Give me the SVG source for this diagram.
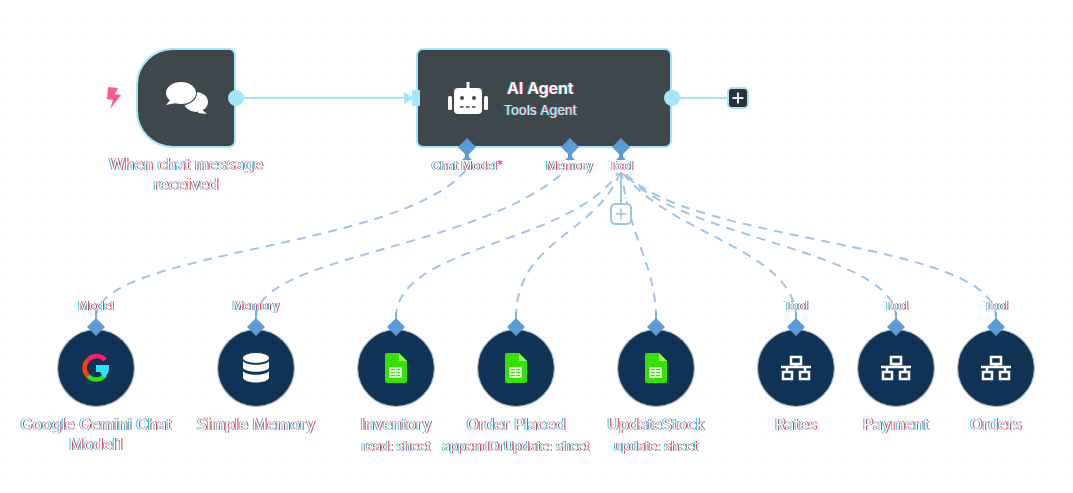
<svg xmlns="http://www.w3.org/2000/svg" width="1073" height="493" viewBox="0 0 1073 493">
<style>
.main{fill:#3d474c;stroke:#a8e5f6;stroke-width:2}
.port{fill:#a5e5f8}
.flow{fill:none;stroke:#a8e5f6;stroke-width:2}
.dash{fill:none;stroke:#a3c4e6;stroke-width:2;stroke-dasharray:9 7}
.dia{fill:#5a9bd8}
.sub{fill:#113355;stroke:#b4c2cc;stroke-width:1.2}
.stem{fill:none;stroke:#7fb0e0;stroke-width:2}
.t{font-family:"Inter","Liberation Sans",sans-serif;fill:#fff;text-anchor:middle;filter:url(#fringe)}
.name{font-size:16px}
.sm{font-size:13px}
.port-l{font-size:12px}
.ic{fill:#fff}
.net{fill:none;stroke:#fff;stroke-width:2.5}
</style>
<defs>
<pattern id="grid" width="20" height="20" patternUnits="userSpaceOnUse" patternTransform="translate(5 17)">
<circle cx="0.5" cy="0.5" r="0.6" fill="#d6d8da"/>
</pattern>
<filter id="fringe" x="-10%" y="-30%" width="120%" height="160%" color-interpolation-filters="sRGB">
<feOffset in="SourceAlpha" dx="-0.6" result="a"/>
<feFlood flood-color="#16cfe6"/>
<feComposite in2="a" operator="in" result="c"/>
<feOffset in="SourceAlpha" dx="0.6" result="b"/>
<feFlood flood-color="#e8324e"/>
<feComposite in2="b" operator="in" result="r"/>
<feMerge><feMergeNode in="c"/><feMergeNode in="r"/><feMergeNode in="SourceGraphic"/></feMerge>
</filter>
<g id="sheet">
<path d="M-9-15H3l8 8V13a2 2 0 0 1-2 2H-9a2 2 0 0 1-2-2V-13a2 2 0 0 1 2-2z" fill="#36e000"/>
<path d="M3-15l8 8H3z" fill="#9af060"/>
<path d="M-6 0H5V9H-6zM-0.5 0V9M-6 3H5M-6 6H5" fill="none" stroke="#fff" stroke-width="1.4"/>
</g>
<g id="network">
<path class="net" d="M-5 -11H5V-4H-5zM0 -4V-1M-15 -1H15M-9 -1V4M9 -1V4M-13 4H-4V11H-13zM4 4H13V11H4z"/>
</g>
</defs>
<rect width="1073" height="493" fill="#fff"/>
<rect width="1073" height="493" fill="url(#grid)"/>

<g id="connectors">
<path class="flow" d="M236 98H406"/>
<path class="port" d="M404 92L414 98L404 104z"/>
<path class="flow" d="M672 98H728"/>
<path class="dash" d="M96 318C96 250 400 250 466 170"/>
<path class="dash" d="M256 318C256 255 480 250 566 170"/>
<path class="dash" d="M396 318C396 245 570 245 618 173"/>
<path class="dash" d="M516 318C516 240 595 235 620 173"/>
<path class="dash" d="M656 318C656 265 628 235 622 173"/>
<path class="dash" d="M796 318C796 250 670 235 623 173"/>
<path class="dash" d="M896 318C896 250 680 240 624 173"/>
<path class="dash" d="M996 318C996 240 690 245 625 173"/>
<path d="M621 172V203" fill="none" stroke="#a3c4e6" stroke-width="2"/>
</g>

<g id="trigger">
<path d="M108 87L107 99L113 100L110 109L121 95L115 94L118 88z" fill="#ff5a8e"/>
<path class="main" d="M173 49H229a6 6 0 0 1 6 6V141a6 6 0 0 1-6 6H173a36 36 0 0 1-36-36V85a36 36 0 0 1 36-36z"/>
<circle class="port" cx="236" cy="98" r="8"/>
<ellipse class="ic" cx="196" cy="102" rx="12" ry="10"/>
<path class="ic" d="M200 108L207 114L198 113z"/>
<ellipse cx="181" cy="93" rx="16" ry="12.5" fill="#3d474c"/>
<ellipse class="ic" cx="181" cy="93" rx="15" ry="11"/>
<path class="ic" d="M171 99L166 105L176 103z"/>
<text class="t name" x="186" y="170">When chat message</text>
<text class="t name" x="186" y="190">received</text>
</g>

<g id="agent">
<rect class="main" x="417" y="49" width="254" height="98" rx="6"/>
<rect class="port" x="412" y="90" width="8" height="16"/>
<circle class="port" cx="672" cy="98" r="8"/>
<rect class="ic" x="454" y="88" width="28" height="26" rx="4"/>
<rect class="ic" x="466.500" y="82" width="3" height="7"/>
<rect class="ic" x="448" y="96" width="4" height="14" rx="1.500"/>
<rect class="ic" x="484" y="96" width="4" height="14" rx="1.500"/>
<circle cx="462" cy="98" r="2" fill="#3d474c"/>
<circle cx="474" cy="98" r="2" fill="#3d474c"/>
<path d="M460 107H476" stroke="#3d474c" stroke-width="1.500" stroke-dasharray="3.500 2.500"/>
<text class="t" x="540.500" y="94" font-size="16" font-weight="600">AI Agent</text>
<text class="t" x="540.500" y="115" font-size="13" style="fill:#bff0fa">Tools Agent</text>
<path class="dia" d="M467 138L476 147L467 156L458 147zM570 138L579 147L570 156L561 147zM621 138L630 147L621 156L612 147z"/>
<path class="dia" d="M465 154H469V157L472 160H462L465 157zM568 154H572V157L575 160H565L568 157zM619 154H623V157L626 160H616L619 157z"/>
<text class="t port-l" x="464" y="170">Chat Model</text>
<text x="497" y="169" font-family="Inter,sans-serif" font-size="12" fill="#ff1f8f">*</text>
<text class="t port-l" x="569.500" y="170">Memory</text>
<text class="t port-l" x="621" y="170">Tool</text>
</g>

<g id="add-main">
<rect x="728" y="88" width="20" height="20" rx="4" fill="#2b3236" stroke="#a8e5f6" stroke-width="2"/>
<path d="M738 92.500V103.500M732.500 98H743.500" stroke="#d6f5fc" stroke-width="2"/>
</g>

<g id="add-tool">
<rect x="611" y="204" width="20" height="20" rx="4" fill="#fff" stroke="#a3c4e6" stroke-width="2"/>
<path d="M621 208.500V219.500M615.500 214H626.500" stroke="#a3c4e6" stroke-width="1.500"/>
</g>

<g id="gemini">
<circle class="sub" cx="96" cy="368" r="38.500"/>
<path class="stem" d="M96 310V322"/>
<path class="dia" d="M96 318L105 327L96 336L87 327z"/>
<text class="t port-l" x="96" y="310">Model</text>
<path d="M105 360A11 11 0 0 0 88 360" fill="none" stroke="#ff1f6b" stroke-width="4.500"/>
<path d="M88 360A11 11 0 0 0 88 376" fill="none" stroke="#f5440f" stroke-width="4.500"/>
<path d="M88 376A11 11 0 0 0 105 375" fill="none" stroke="#34e010" stroke-width="4.500"/>
<path d="M96 365H109V369C109 373 106 376 104 378L100 372H96z" fill="#2fe0ff"/>
<text class="t name" x="96" y="430">Google Gemini Chat</text>
<text class="t name" x="96" y="450">Model1</text>
</g>

<g id="memory">
<circle class="sub" cx="256" cy="368" r="38.500"/>
<path class="stem" d="M256 310V322"/>
<path class="dia" d="M256 318L265 327L256 336L247 327z"/>
<text class="t port-l" x="256" y="310">Memory</text>
<ellipse class="ic" cx="256" cy="358" rx="13" ry="5"/>
<path class="ic" d="M243 361C246 366 266 366 269 361V368C266 373 246 373 243 368z"/>
<path class="ic" d="M243 371C246 376 266 376 269 371V378C266 384 246 384 243 378z"/>
<text class="t name" x="256" y="430">Simple Memory</text>
</g>

<g id="inventory">
<circle class="sub" cx="396" cy="368" r="38.500"/>
<path class="stem" d="M396 312V322"/>
<path class="dia" d="M396 318L405 327L396 336L387 327z"/>
<use href="#sheet" x="396" y="368"/>
<text class="t name" x="396" y="430">Inventory</text>
<text class="t sm" x="396" y="451">read: sheet</text>
</g>

<g id="order-placed">
<circle class="sub" cx="516" cy="368" r="38.500"/>
<path class="stem" d="M516 312V322"/>
<path class="dia" d="M516 318L525 327L516 336L507 327z"/>
<use href="#sheet" x="516" y="368"/>
<text class="t name" x="516" y="430">Order Placed</text>
<text class="t sm" x="516" y="451">appendOrUpdate: sheet</text>
</g>

<g id="update-stock">
<circle class="sub" cx="656" cy="368" r="38.500"/>
<path class="stem" d="M656 312V322"/>
<path class="dia" d="M656 318L665 327L656 336L647 327z"/>
<use href="#sheet" x="656" y="368"/>
<text class="t name" x="656" y="430">UpdateStock</text>
<text class="t sm" x="656" y="451">update: sheet</text>
</g>

<g id="rates">
<circle class="sub" cx="796" cy="368" r="38.500"/>
<path class="stem" d="M796 312V322"/>
<path class="dia" d="M796 318L805 327L796 336L787 327z"/>
<text class="t port-l" x="796" y="310">Tool</text>
<use href="#network" x="796" y="368"/>
<text class="t name" x="796" y="430">Rates</text>
</g>

<g id="payment">
<circle class="sub" cx="896" cy="368" r="38.500"/>
<path class="stem" d="M896 312V322"/>
<path class="dia" d="M896 318L905 327L896 336L887 327z"/>
<text class="t port-l" x="896" y="310">Tool</text>
<use href="#network" x="896" y="368"/>
<text class="t name" x="896" y="430">Payment</text>
</g>

<g id="orders">
<circle class="sub" cx="996" cy="368" r="38.500"/>
<path class="stem" d="M996 312V322"/>
<path class="dia" d="M996 318L1005 327L996 336L987 327z"/>
<text class="t port-l" x="996" y="310">Tool</text>
<use href="#network" x="996" y="368"/>
<text class="t name" x="996" y="430">Orders</text>
</g>
</svg>
